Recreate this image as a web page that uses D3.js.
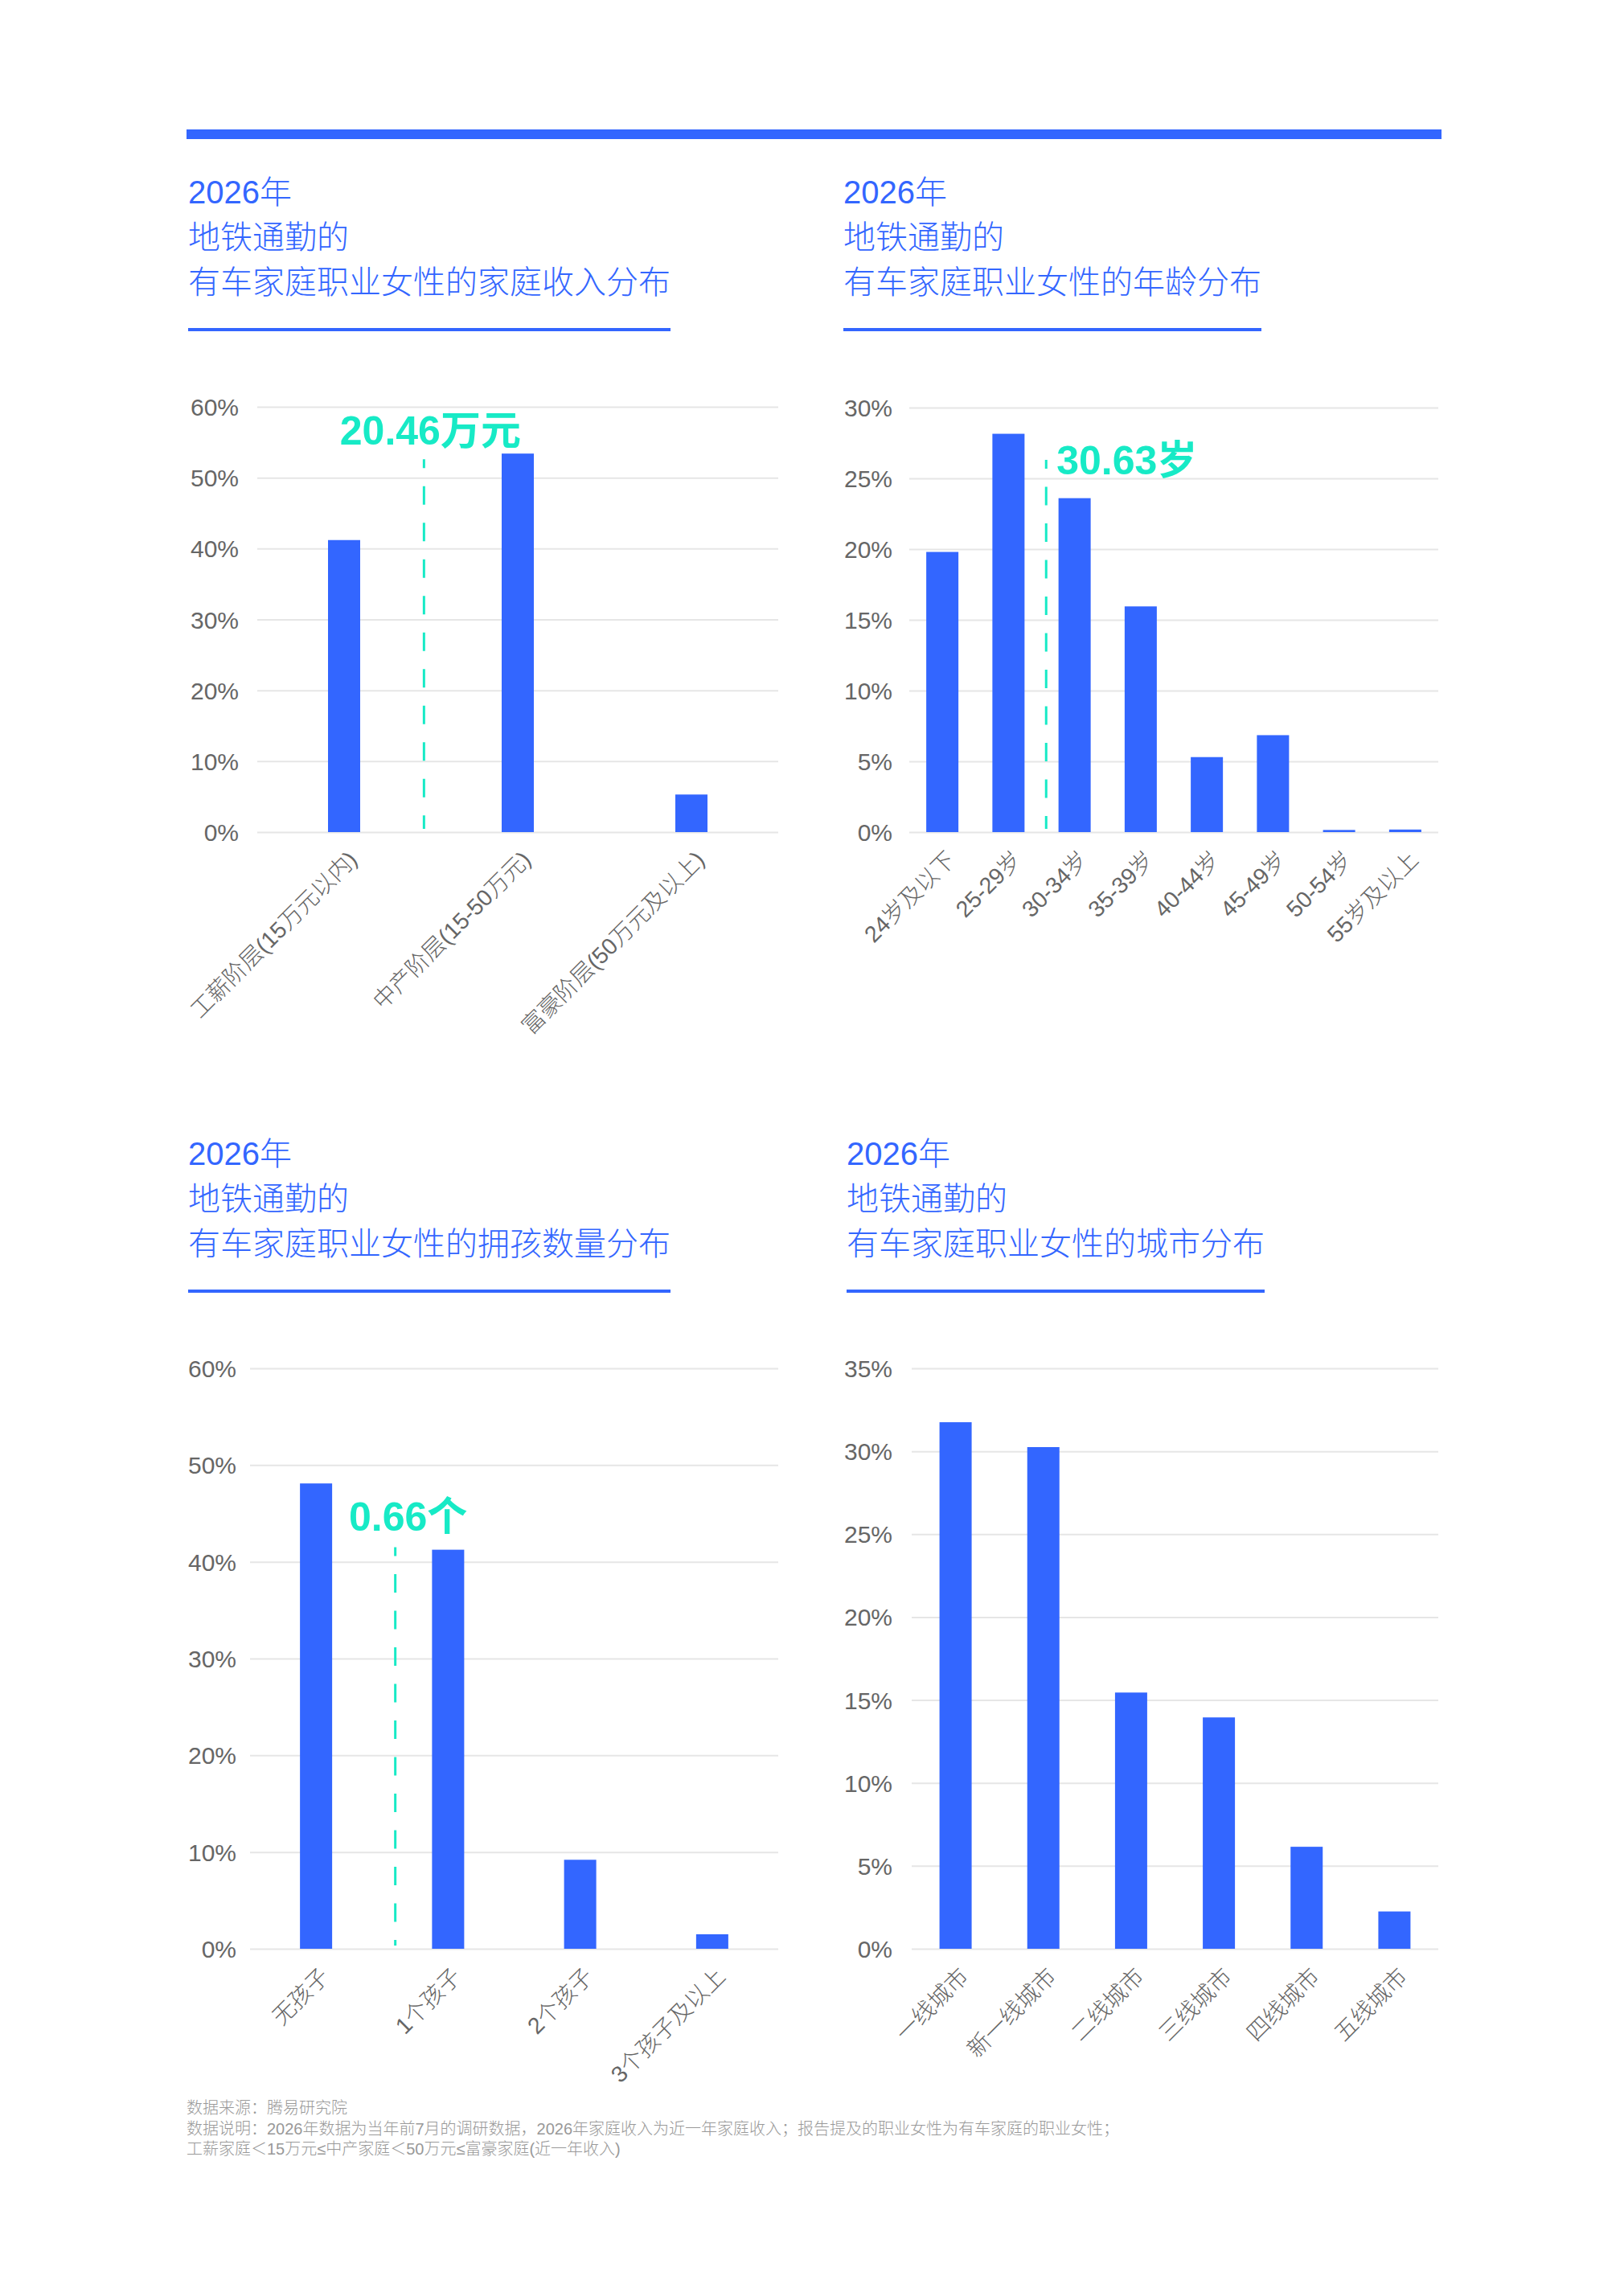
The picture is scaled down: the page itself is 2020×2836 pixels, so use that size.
<!DOCTYPE html>
<html>
<head>
<meta charset="utf-8">
<script src="https://cdn.jsdelivr.net/npm/d3@7"></script>
<style>
  body { margin: 0; background: #fff; }
  svg { display: block; font-family: 'Liberation Sans', 'Noto Sans CJK SC', sans-serif; }
</style>
</head>
<body>
<div id="page"></div>
<script>
// ---- data ----
const titleLead = ['2026年', '地铁通勤的']
const panelTitles = [
  '有车家庭职业女性的家庭收入分布',
  '有车家庭职业女性的年龄分布',
  '有车家庭职业女性的拥孩数量分布',
  '有车家庭职业女性的城市分布'
]

const incomeCats = ['工薪阶层(15万元以内)', '中产阶层(15-50万元)', '富豪阶层(50万元及以上)']
const incomeValues = [41.2, 53.4, 5.3]
const incomeTicks = [0, 10, 20, 30, 40, 50, 60]

const ageCats = ['24岁及以下', '25-29岁', '30-34岁', '35-39岁', '40-44岁', '45-49岁', '50-54岁', '55岁及以上']
const ageValues = [19.8, 28.15, 23.6, 15.95, 5.3, 6.85, 0.15, 0.18]
const ageTicks = [0, 5, 10, 15, 20, 25, 30]

const kidsCats = ['无孩子', '1个孩子', '2个孩子', '3个孩子及以上']
const kidsValues = [48.1, 41.25, 9.2, 1.5]
const kidsTicks = [0, 10, 20, 30, 40, 50, 60]

const cityCats = ['一线城市', '新一线城市', '二线城市', '三线城市', '四线城市', '五线城市']
const cityValues = [31.75, 30.25, 15.45, 13.95, 6.15, 2.25]
const cityTicks = [0, 5, 10, 15, 20, 25, 30, 35]

// average markers: label, position in category-index units, top of the dashed line (%)
const avgLabels = ['20.46万元', '30.63岁', '0.66个']
const avgPos = [0.46, 1.57, 0.6]
const avgTop = [52.6, 26.3, 41.5]

const footnotes = [
  '数据来源：腾易研究院',
  '数据说明：2026年数据为当年前7月的调研数据，2026年家庭收入为近一年家庭收入；报告提及的职业女性为有车家庭的职业女性；',
  '工薪家庭＜15万元≤中产家庭＜50万元≤富豪家庭(近一年收入)'
]

// ---- style ----
const BLUE = '#3366ff'
const TEAL = '#17eac6'
const GREY = '#666'
const GRID = '#e6e6e6'
const FONT = "'Liberation Sans', 'Noto Sans CJK SC', sans-serif"

const W = 2020
const H = 2836

const svg = d3.select('#page').append('svg')
  .attr('width', W)
  .attr('height', H)
svg.append('rect').attr('width', W).attr('height', H).attr('fill', '#fff')

// Top rule
svg.append('rect')
  .attr('x', 232).attr('y', 161)
  .attr('width', 1793 - 232).attr('height', 12)
  .attr('fill', BLUE)

// Panel layout (positions only)
const panels = [
  { cats: incomeCats, values: incomeValues, ticks: incomeTicks, title: panelTitles[0],
    titleX: 234, titleY: 253, x0: 320, x1: 968, yTop: 506, yZero: 1035, pad: 23,
    avg: 0, labelDx: 8, labelDy: -18, anchor: 'middle' },
  { cats: ageCats, values: ageValues, ticks: ageTicks, title: panelTitles[1],
    titleX: 1049, titleY: 253, x0: 1131, x1: 1789, yTop: 507, yZero: 1035, pad: 21,
    avg: 1, labelDx: 13, labelDy: 18, anchor: 'start' },
  { cats: kidsCats, values: kidsValues, ticks: kidsTicks, title: panelTitles[2],
    titleX: 234, titleY: 1449, x0: 311, x1: 968, yTop: 1702, yZero: 2424, pad: 17,
    avg: 2, labelDx: 16, labelDy: -21, anchor: 'middle' },
  { cats: cityCats, values: cityValues, ticks: cityTicks, title: panelTitles[3],
    titleX: 1053, titleY: 1449, x0: 1134, x1: 1789, yTop: 1702, yZero: 2424, pad: 24,
    avg: null }
]

panels.forEach(p => drawPanel(p))

function drawPanel (p) {
  // Title block
  const lines = [...titleLead, p.title]
  const t = svg.append('g').attr('class', 'title')
  let lastWidth = 0
  lines.forEach((line, i) => {
    const txt = t.append('text')
      .attr('x', p.titleX)
      .attr('y', p.titleY + i * 56)
      .attr('fill', BLUE)
      .attr('font-size', 40)
      .attr('font-weight', 300)
      .text(line)
    if (i === lines.length - 1) lastWidth = txt.node().getComputedTextLength()
  })
  t.append('rect')
    .attr('x', p.titleX)
    .attr('y', p.titleY + 155)
    .attr('width', lastWidth)
    .attr('height', 4)
    .attr('fill', BLUE)

  // Scales
  const x = d3.scaleBand().domain(p.cats).range([p.x0, p.x1]).padding(0)
  const yMax = d3.max(p.ticks)
  const y = d3.scaleLinear().domain([0, yMax]).range([p.yZero, p.yTop])
  const bw = x.bandwidth()

  // Y axis with gridlines
  const yAxis = svg.append('g')
    .attr('transform', `translate(${p.x0},0)`)
    .call(d3.axisLeft(y)
      .tickValues(p.ticks)
      .tickFormat(d => d + '%')
      .tickSize(-(p.x1 - p.x0))
      .tickPadding(p.pad))
  yAxis.select('.domain').remove()
  yAxis.selectAll('.tick line').attr('stroke', GRID).attr('stroke-width', 2)
  yAxis.selectAll('.tick text')
    .attr('fill', GREY)
    .attr('font-size', 30)
    .attr('font-family', FONT)
    .attr('dy', '0.35em')

  // X axis labels
  const xAxis = svg.append('g')
    .attr('transform', `translate(0,${p.yZero})`)
    .call(d3.axisBottom(x).tickSize(0))
  xAxis.select('.domain').remove()
  xAxis.selectAll('.tick text')
    .attr('x', 0).attr('y', 0).attr('dy', 0)
    .attr('transform', 'translate(18,36) rotate(-45)')
    .attr('text-anchor', 'end')
    .attr('fill', GREY)
    .attr('font-size', 28.5)
    .attr('font-weight', 300)
    .attr('font-family', FONT)

  // Bars
  const barW = 40
  svg.append('g').selectAll('rect')
    .data(p.values)
    .enter().append('rect')
    .attr('x', (d, i) => x(p.cats[i]) + bw / 2 - barW / 2)
    .attr('y', d => y(d))
    .attr('width', barW)
    .attr('height', d => y(0) - y(d))
    .attr('fill', BLUE)

  // Average marker
  if (p.avg !== null) {
    const mx = p.x0 + bw * (avgPos[p.avg] + 0.5)
    const top = y(avgTop[p.avg])
    svg.append('line')
      .attr('x1', mx).attr('x2', mx)
      .attr('y1', top).attr('y2', y(0) - 4)
      .attr('stroke', TEAL)
      .attr('stroke-width', 3)
      .attr('stroke-dasharray', '23 22.5')
      .attr('stroke-dashoffset', 12)
    svg.append('text')
      .attr('x', mx + p.labelDx)
      .attr('y', top + p.labelDy)
      .attr('text-anchor', p.anchor)
      .attr('fill', TEAL)
      .attr('font-size', 50)
      .attr('font-weight', 700)
      .text(avgLabels[p.avg])
  }
}

// Footnotes
svg.append('g').selectAll('text')
  .data(footnotes)
  .enter().append('text')
  .attr('x', 232)
  .attr('y', (d, i) => 2629 + i * 25.5)
  .attr('fill', '#999')
  .attr('font-size', 20)
  .attr('font-weight', 300)
  .text(d => d)
</script>
</body>
</html>
